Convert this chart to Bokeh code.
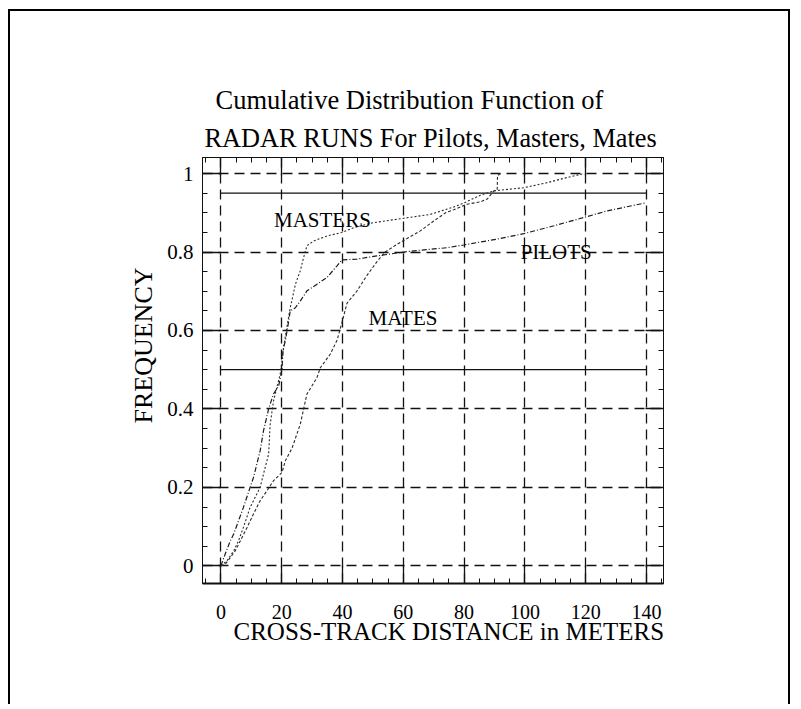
from bokeh.plotting import figure
from bokeh.models import (Range1d, LinearAxis, SingleIntervalTicker, CustomJSTickFormatter,
                          Title)
from bokeh.core.properties import value
from bokeh.embed import file_html
from bokeh.resources import INLINE

# ---- data ----
pilots_x = [0, 1.4, 3.1, 4.2, 7.4, 9.6, 10.7, 12.9, 14.0, 15.7, 17.3, 19.0, 20.1, 20.4, 21.2,
            22.0, 22.8, 24.5, 26.1, 28.3, 31.6, 34.9, 38.2, 39.8, 44.7, 51.3, 60.1, 66.0,
            74.4, 79.9, 85.0, 90.9, 99.7, 109.6, 119.4, 127.1, 139.5]
pilots_y = [0, 0.03, 0.064, 0.081, 0.149, 0.2, 0.225, 0.293, 0.344, 0.40, 0.438, 0.459, 0.50,
            0.548, 0.574, 0.61, 0.65, 0.658, 0.675, 0.701, 0.718, 0.735, 0.765, 0.78, 0.782,
            0.79, 0.80, 0.805, 0.811, 0.818, 0.825, 0.833, 0.847, 0.867, 0.888, 0.905, 0.925]

masters_x = [0, 2.0, 4.2, 5.8, 7.4, 9.6, 12.9, 14.0, 15.7, 16.2, 17.3, 18.4, 19.5, 20.1, 20.6,
             21.5, 22.8, 23.3, 24.5, 26.1, 27.2, 28.3, 30.5, 34.9, 39.8, 43.7, 50.3, 60.1,
             68.9, 76.6, 79.9, 85.4, 89.8, 99.7, 107.4, 113.9, 119.4]
masters_y = [0, 0.013, 0.038, 0.064, 0.098, 0.149, 0.2, 0.234, 0.285, 0.361, 0.42, 0.455,
             0.489, 0.523, 0.556, 0.60, 0.658, 0.675, 0.718, 0.752, 0.786, 0.816, 0.828,
             0.841, 0.85, 0.862, 0.875, 0.886, 0.896, 0.915, 0.925, 0.945, 0.956, 0.964,
             0.977, 0.99, 1.0]

mates_x = [0, 1.4, 3.1, 4.7, 6.4, 8.6, 10.7, 12.9, 15.1, 17.3, 20.1, 21.2, 23.4, 26.1, 28.3,
           31.6, 32.7, 36.0, 38.2, 39.8, 41.5, 44.7, 48.0, 51.3, 54.0, 58.0, 61.8, 65.6, 70.0,
           73.9, 76.6, 81.0, 85.4, 87.6, 89.8, 90.9, 91.0, 92.0]
mates_y = [0, 0.004, 0.021, 0.038, 0.064, 0.098, 0.132, 0.166, 0.191, 0.217, 0.238, 0.268,
           0.30, 0.361, 0.438, 0.48, 0.505, 0.54, 0.575, 0.62, 0.67, 0.70, 0.74, 0.775, 0.80,
           0.82, 0.837, 0.854, 0.879, 0.90, 0.908, 0.922, 0.928, 0.935, 0.956, 0.96, 0.995,
           1.0]

ref_levels = [0.5, 0.95]
ref_x_start = [0, 0]
ref_x_end = [140, 140]

curve_names = ["MASTERS", "MATES", "PILOTS"]
curve_label_x = [33.4, 59.9, 110.3]
curve_label_y = [0.882, 0.633, 0.801]

title_line1 = "Cumulative Distribution Function of"
title_line2 = "RADAR RUNS For Pilots, Masters, Mates"
x_title = "CROSS-TRACK DISTANCE in METERS"
y_title = "FREQUENCY"

x_tick_step = 20
y_tick_step = 0.2

SERIF = "Liberation Serif"
INK = "#111111"

W, H = 782, 695
p = figure(width=W, height=H, output_backend="svg", toolbar_location=None, title=None,
           x_range=Range1d(-6.06, 145.6), y_range=Range1d(-0.045, 1.041),
           min_border_left=192, min_border_right=129, min_border_top=146,
           min_border_bottom=123, background_fill_color="white", border_fill_color="white")
p.styles = {"margin-left": "8px", "margin-top": "9px",
            "border-left": "2px solid #000", "border-top": "2px solid #000",
            "border-right": "2px solid #000"}

xt = SingleIntervalTicker(interval=x_tick_step, num_minor_ticks=4)
yt = SingleIntervalTicker(interval=y_tick_step, num_minor_ticks=4)
yfmt = CustomJSTickFormatter(code="return String(Math.round(tick * 100) / 100);")
xfmt = CustomJSTickFormatter(code="return String(Math.round(tick));")
blank = CustomJSTickFormatter(code="return '';")

p.add_layout(LinearAxis(), "above")
p.add_layout(LinearAxis(), "right")

for ax in p.xaxis:
    ax.ticker = xt
for ax in p.yaxis:
    ax.ticker = yt
p.below[0].formatter = xfmt
p.left[0].formatter = yfmt
p.above[0].formatter = blank
p.right[0].formatter = blank

for ax in list(p.xaxis) + list(p.yaxis):
    ax.major_tick_in = 18
    ax.major_tick_out = 0
    ax.minor_tick_in = 5
    ax.minor_tick_out = 0
    ax.major_tick_line_color = INK
    ax.major_tick_line_width = 1.3
    ax.minor_tick_line_color = INK
    ax.minor_tick_line_width = 1
    ax.axis_line_color = INK
    ax.axis_line_width = 1
    ax.major_label_text_font = SERIF
    ax.major_label_text_font_size = "20px"
    ax.major_label_text_color = "black"
    ax.major_label_standoff = 0

p.below[0].axis_line_width = 2
p.below[0].major_label_standoff = 21
p.left[0].major_label_standoff = 9
p.left[0].major_label_text_font_size = "21px"

p.xgrid.ticker = xt
p.ygrid.ticker = yt
for g in (p.xgrid, p.ygrid):
    g.grid_line_color = INK
    g.grid_line_width = 1.3
    g.grid_line_dash = "10 6"

p.outline_line_color = INK
p.outline_line_width = 1

# reference levels
p.segment(x0=ref_x_start, y0=ref_levels, x1=ref_x_end, y1=ref_levels,
          line_color=INK, line_width=1.2)

# curves
p.line(pilots_x, pilots_y, line_color="#1a1a1a", line_width=1.2, line_dash="5 2 1 2")
p.line(masters_x, masters_y, line_color="#2a2a2a", line_width=1.1, line_dash="2 2")
p.line(mates_x, mates_y, line_color="#2a2a2a", line_width=1.1, line_dash="3 2")

p.text(x=curve_label_x, y=curve_label_y, text=curve_names, text_align="center",
       text_baseline="middle", text_font=value(SERIF), text_font_size="21px",
       text_color="black")

# titles
p.add_layout(Title(text=title_line2, align="left", offset=2, text_font=SERIF,
                   text_font_size="26.3px", text_font_style="normal", text_color="black",
                   standoff=10), "above")
p.add_layout(Title(text=title_line1, align="left", offset=13, text_font=SERIF,
                   text_font_size="26.5px", text_font_style="normal", text_color="black",
                   standoff=4), "above")
p.add_layout(Title(text=x_title, align="left", offset=31, text_font=SERIF,
                   text_font_size="25px", text_font_style="normal", text_color="black",
                   standoff=-11), "below")
p.add_layout(Title(text=y_title, align="left", offset=160, text_font=SERIF,
                   text_font_size="26px", text_font_style="normal", text_color="black",
                   standoff=14), "left")

open("out.html", "w").write(file_html(p, INLINE))
